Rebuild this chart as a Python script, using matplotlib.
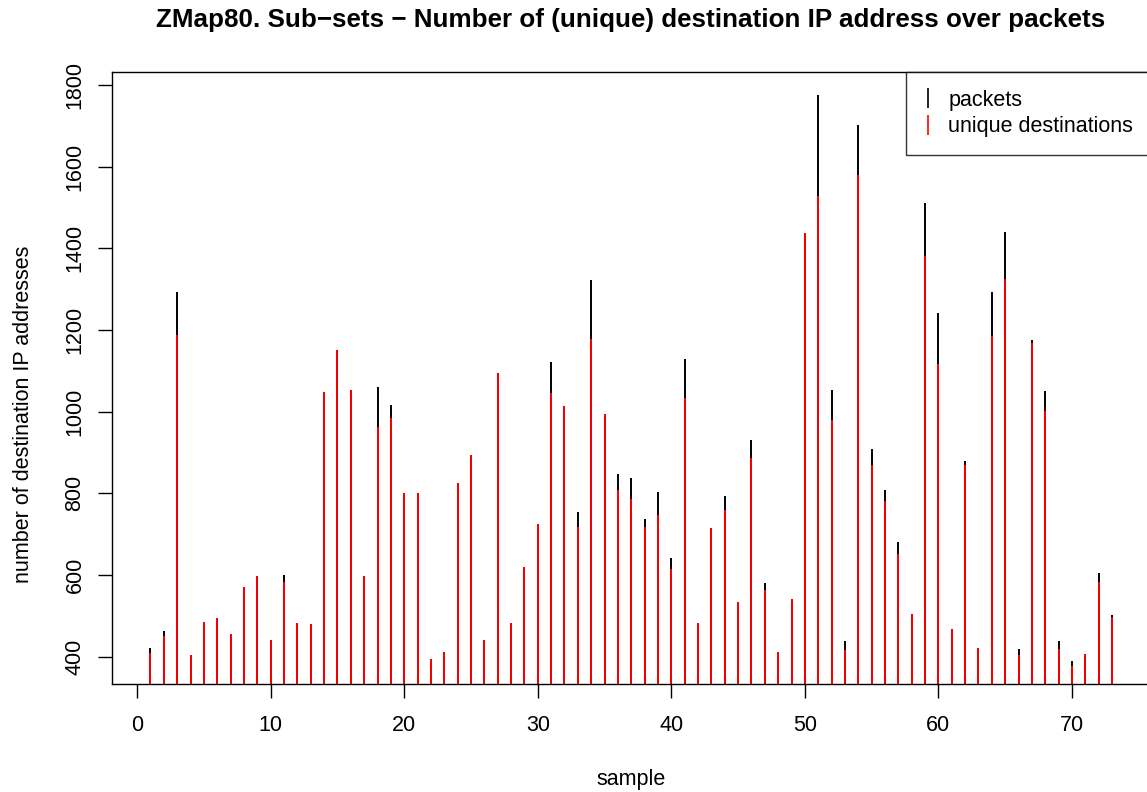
import matplotlib
matplotlib.use("Agg")
import matplotlib.pyplot as plt
from matplotlib.lines import Line2D

plt.rcParams['font.family'] = ['Liberation Sans', 'DejaVu Sans']

# sample index
samples = list(range(1, 74))

# total packets per sub-set (black)
packets = [421, 464, 1293, 404, 485, 494, 455, 570, 598, 441,
           599, 483, 479, 1048, 1151, 1053, 598, 1061, 1016, 801,
           801, 394, 412, 825, 894, 440, 1094, 483, 620, 726,
           1122, 1013, 754, 1322, 994, 847, 838, 737, 804, 641,
           1130, 482, 716, 793, 534, 930, 581, 411, 542, 1437,
           1776, 1052, 438, 1701, 908, 808, 680, 505, 1510, 1241,
           467, 880, 420, 1294, 1439, 419, 1175, 1050, 439, 390,
           407, 604, 502]

# unique destination addresses per sub-set (red)
unique = [410, 451, 1188, 404, 485, 494, 455, 570, 598, 441,
          584, 483, 479, 1048, 1151, 1053, 598, 963, 984, 801,
          801, 394, 412, 825, 894, 440, 1094, 483, 620, 726,
          1046, 1013, 718, 1178, 994, 807, 786, 718, 747, 615,
          1033, 482, 716, 759, 534, 886, 562, 411, 542, 1437,
          1529, 980, 416, 1580, 870, 782, 652, 505, 1382, 1116,
          467, 869, 420, 1184, 1324, 403, 1167, 1001, 419, 378,
          407, 583, 498]

xticks = [0, 10, 20, 30, 40, 50, 60, 70]
yticks = [400, 600, 800, 1000, 1200, 1400, 1600, 1800]

W, H = 1147, 792
fig = plt.figure(figsize=(W / 100, H / 100), dpi=100)
ax = fig.add_axes([112 / W, (H - 684) / H, (1150.5 - 112) / W, (684 - 72.3) / H])

ax.vlines(samples, 0, packets, colors='black', linewidth=1.4)
ax.vlines(samples, 0, unique, colors='red', linewidth=1.4)

ax.set_xlim(-1.88, 75.88)
ax.set_ylim(333, 1831)
ax.set_xticks(xticks)
ax.set_yticks(yticks)

for s in ax.spines.values():
    s.set_linewidth(1.0)
ax.tick_params(axis='both', direction='out', length=10, width=1.0, labelsize=15.5)
ax.tick_params(axis='x', pad=12.5)
ax.tick_params(axis='y', pad=9)
plt.setp(ax.get_yticklabels(), rotation=90, va='center')

handles = [Line2D([], [], color='black', marker='|', linestyle='none',
                  markersize=14.4, markeredgewidth=1.2),
           Line2D([], [], color='red', marker='|', linestyle='none',
                  markersize=14.4, markeredgewidth=1.2)]
leg = ax.legend(handles, ['packets', 'unique destinations'], loc='upper right',
                fontsize=15.5, frameon=True, fancybox=False, borderpad=0.8,
                handlelength=0.4, handletextpad=0.75, labelspacing=0.27,
                borderaxespad=0, numpoints=1)
leg.get_frame().set_edgecolor('black')
leg.get_frame().set_linewidth(1.0)

fig.text(631 / W, (H - 26.7) / H,
         'ZMap80. Sub\u2212sets \u2212 Number of (unique) destination IP address over packets',
         ha='center', va='baseline', fontsize=18.7, fontweight='bold')
fig.text(631 / W, (H - 785) / H, 'sample', ha='center', va='baseline', fontsize=15.5)
fig.text(24 / W, 378 / H, 'number of destination IP addresses', rotation=90,
         ha='center', va='center', fontsize=15.5)

fig.savefig('out.png', dpi=100)
